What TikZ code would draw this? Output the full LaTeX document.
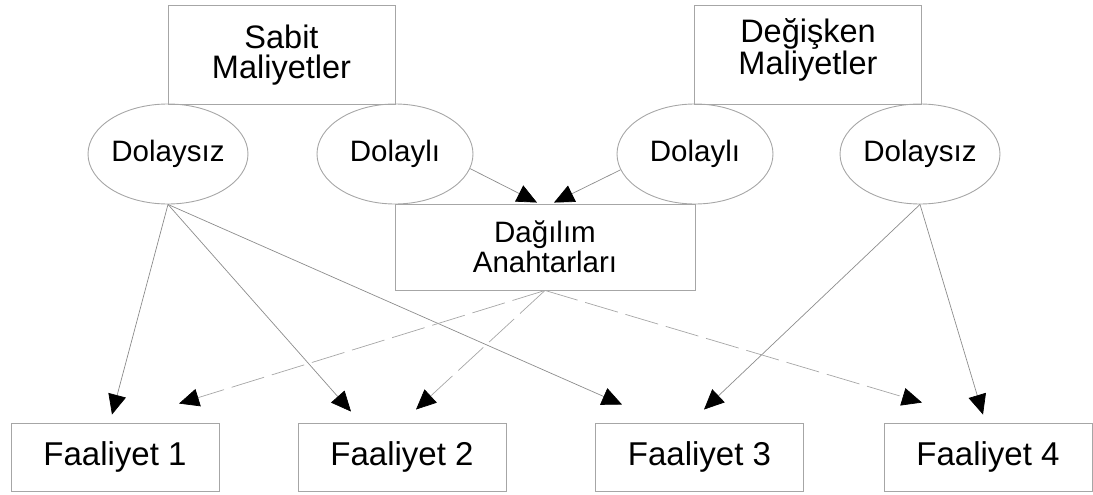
\documentclass[tikz,border=0pt]{standalone}
\usepackage{fontspec}
\setmainfont{Liberation Sans}
\usetikzlibrary{arrows.meta,shapes.geometric,calc}
\begin{document}
\begin{tikzpicture}[x=1pt,y=-1pt,
  boxline/.style={draw=black!35, line width=0.9pt, inner sep=0pt},
  costbox/.style={boxline, rectangle, minimum width=227pt, minimum height=99pt},
  boxtext/.style={align=center, inner sep=0pt, font=\fontsize{32.5}{30}\selectfont},
  kind/.style={boxline, ellipse, minimum width=156pt, minimum height=100pt, font=\fontsize{29.5}{30}\selectfont},
  keybox/.style={boxline, rectangle, minimum width=300pt, minimum height=86pt, align=center, font=\fontsize{29.5}{30}\selectfont},
  actbox/.style={boxline, rectangle, minimum width=208pt, minimum height=68pt, font=\fontsize{33}{34}\selectfont},
  link/.style={draw=black!45, line width=0.7pt, -{Triangle[length=20pt,width=18pt,color=black]}},
  keylink/.style={link, draw=black!35, dash pattern=on 34pt off 8pt},
]
\useasboundingbox (0,0) rectangle (1093,495);

% cost groups
\node[costbox] (sm) at (281.5,54.5) {};
\node[boxtext] (smtext) at (281.5,55) {Sabit\\Maliyetler};
\node[costbox] (dm) at (808,54.5) {};
\node[boxtext] (dmtext) at (808,50) {Değişken\\Maliyetler};

% direct / indirect split
\node[kind] (sdir) at (168,154) {Dolaysız};
\node[kind] (sind) at (395,154) {Dolaylı};
\node[kind] (vind) at (695,154) {Dolaylı};
\node[kind] (vdir) at (920,154) {Dolaysız};

% allocation keys
\node[keybox] (key) at (545,247) {Dağılım\\Anahtarları};

% activities
\node[actbox] (f1) at (115,457) {Faaliyet 1};
\node[actbox] (f2) at (402,457) {Faaliyet 2};
\node[actbox] (f3) at (699.5,457) {Faaliyet 3};
\node[actbox] (f4) at (988,457) {Faaliyet 4};

% arrow tips stop short of the boxes
\coordinate (k1) at ($(key.north)+(-8,-1)$);
\coordinate (k2) at ($(key.north)+(9,-1)$);
\coordinate (a1) at ($(f1.north)+(-3,-8)$);
\coordinate (b1) at ($(f1.north)+(64,-19)$);
\coordinate (a2) at ($(f2.north)+(-51,-11)$);
\coordinate (b2) at ($(f2.north)+(14,-13)$);
\coordinate (a3) at ($(f3.north)+(-77.5,-18)$);
\coordinate (c3) at ($(f3.north)+(4.5,-13)$);
\coordinate (b4) at ($(f4.north)+(-66,-20)$);
\coordinate (a4) at ($(f4.north)+(-5,-8)$);

% indirect costs into the allocation keys
\draw[link] (sind.-11.3) -- (k1);
\draw[link] (vind.192) -- (k2);

% direct costs straight to activities
\draw[link] (sdir.south) -- (a1);
\draw[link] (sdir.south) -- (a2);
\draw[link] (sdir.south) -- (a3);
\draw[link] (vdir.south) -- (c3);
\draw[link] (vdir.south) -- (a4);

% allocated indirect costs
\draw[keylink] (key.south) -- (b1);
\draw[keylink] (key.south) -- (b2);
\draw[keylink] (key.south) -- (b4);
\end{tikzpicture}
\end{document}
